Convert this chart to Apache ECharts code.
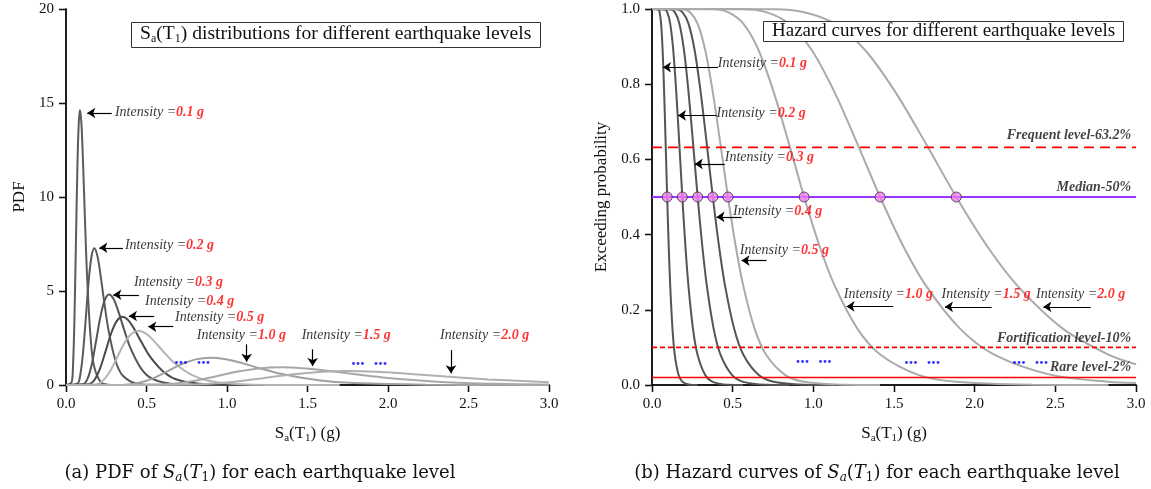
<!DOCTYPE html>
<html><head><meta charset="utf-8">
<script src="https://cdn.jsdelivr.net/npm/echarts@6/dist/echarts.min.js"></script>
<style>html,body{margin:0;padding:0;background:#fff}#c{width:1151px;height:489px}</style>
</head><body><div id="c"></div>
<script>
// ---------------- data ----------------
const intensityLabels = ['0.1 g','0.2 g','0.3 g','0.4 g','0.5 g','1.0 g','1.5 g','2.0 g'];
const xTickLabels = ['0.0','0.5','1.0','1.5','2.0','2.5','3.0'];
const pdfTickLabels = ['0','5','10','15','20'];
const probTickLabels = ['0.0','0.2','0.4','0.6','0.8','1.0'];

// panel (a): PDF curves [Sa, PDF]
const pdf01 = [[0,0],[0.0348,0.139],[0.0435,1.015],[0.0522,3.432],[0.0609,7.217],[0.0696,11.094],[0.0783,13.755],[0.087,14.63],[0.0957,13.91],[0.1044,12.163],[0.1175,8.87],[0.1305,5.87],[0.1523,2.568],[0.174,1.014],[0.2175,0.138],[0.261,0.018],[0.35,0]];
const pdf02 = [[0,0],[0.0704,0.069],[0.088,0.505],[0.1056,1.706],[0.1232,3.586],[0.1408,5.513],[0.1584,6.835],[0.176,7.27],[0.1936,6.912],[0.2112,6.044],[0.2376,4.408],[0.264,2.917],[0.308,1.276],[0.352,0.504],[0.44,0.068],[0.528,0.009],[0.7,0]];
const pdf03 = [[0,0],[0.1072,0.046],[0.134,0.335],[0.1608,1.131],[0.1876,2.378],[0.2144,3.655],[0.2412,4.532],[0.268,4.82],[0.2948,4.583],[0.3216,4.007],[0.3618,2.922],[0.402,1.934],[0.469,0.846],[0.536,0.334],[0.67,0.045],[0.804,0.006],[1.0,0]];
const pdf04 = [[0,0],[0.1404,0.034],[0.1755,0.252],[0.2106,0.852],[0.2457,1.791],[0.2808,2.753],[0.3159,3.413],[0.351,3.63],[0.3861,3.451],[0.4212,3.018],[0.4739,2.201],[0.5265,1.456],[0.6143,0.637],[0.702,0.252],[0.8775,0.034],[1.053,0.004],[1.3,0]];
const pdf05 = [[0,0],[0.18,0.027],[0.225,0.201],[0.27,0.678],[0.315,1.426],[0.36,2.191],[0.405,2.717],[0.45,2.89],[0.495,2.748],[0.54,2.403],[0.6075,1.752],[0.675,1.159],[0.7875,0.507],[0.9,0.2],[1.125,0.027],[1.35,0.003],[1.7,0]];
const pdf10 = [[0,0],[0.358,0.014],[0.4475,0.101],[0.537,0.34],[0.6265,0.715],[0.716,1.1],[0.8055,1.363],[0.895,1.45],[0.9845,1.379],[1.074,1.206],[1.2083,0.879],[1.3425,0.582],[1.5663,0.254],[1.79,0.1],[2.2375,0.014],[2.685,0.002],[3.0,0]];
const pdf15 = [[0,0],[0.5332,0.009],[0.6665,0.065],[0.7998,0.221],[0.9331,0.464],[1.0664,0.713],[1.1997,0.884],[1.333,0.94],[1.4663,0.894],[1.5996,0.782],[1.7996,0.57],[1.9995,0.377],[2.3328,0.165],[2.666,0.065],[3.0,0.024]];
const pdf20 = [[0,0],[0.6992,0.007],[0.874,0.051],[1.0488,0.174],[1.2236,0.365],[1.3984,0.561],[1.5732,0.696],[1.748,0.74],[1.9228,0.704],[2.0976,0.615],[2.3598,0.449],[2.622,0.297],[3.0,0.146]];

// panel (b): hazard curves [Sa, exceeding probability]
const haz01 = [[0,1],[0.0376,0.9992],[0.047,0.9916],[0.0564,0.961],[0.0658,0.891],[0.0752,0.779],[0.0846,0.642],[0.094,0.5],[0.1034,0.371],[0.1128,0.265],[0.1269,0.15],[0.141,0.081],[0.1645,0.027],[0.188,0.0084],[0.235,0.0008],[0.282,0.0001]];
const haz02 = [[0,1],[0.0752,0.9992],[0.094,0.9916],[0.1128,0.961],[0.1316,0.891],[0.1504,0.779],[0.1692,0.642],[0.188,0.5],[0.2068,0.371],[0.2256,0.265],[0.2538,0.15],[0.282,0.081],[0.329,0.027],[0.376,0.0084],[0.47,0.0008],[0.564,0.0001]];
const haz03 = [[0,1],[0.1132,0.9992],[0.1415,0.9916],[0.1698,0.961],[0.1981,0.891],[0.2264,0.779],[0.2547,0.642],[0.283,0.5],[0.3113,0.371],[0.3396,0.265],[0.382,0.15],[0.4245,0.081],[0.4953,0.027],[0.566,0.0084],[0.7075,0.0008],[0.849,0.0001]];
const haz04 = [[0,1],[0.1508,0.9992],[0.1885,0.9916],[0.2262,0.961],[0.2639,0.891],[0.3016,0.779],[0.3393,0.642],[0.377,0.5],[0.4147,0.371],[0.4524,0.265],[0.509,0.15],[0.5655,0.081],[0.6598,0.027],[0.754,0.0084],[0.9425,0.0008],[1.131,0.0001]];
const haz05 = [[0,1],[0.1884,0.9992],[0.2355,0.9916],[0.2826,0.961],[0.3297,0.891],[0.3768,0.779],[0.4239,0.642],[0.471,0.5],[0.5181,0.371],[0.5652,0.265],[0.6359,0.15],[0.7065,0.081],[0.8243,0.027],[0.942,0.0084],[1.1775,0.0008],[1.413,0.0001]];
const haz10 = [[0,1],[0.3772,0.9992],[0.4715,0.9916],[0.5658,0.961],[0.6601,0.891],[0.7544,0.779],[0.8487,0.642],[0.943,0.5],[1.0373,0.371],[1.1316,0.265],[1.273,0.15],[1.4145,0.081],[1.65,0.027],[1.886,0.0084],[2.3575,0.0008],[2.829,0.0001]];
const haz15 = [[0,1],[0.5656,0.9992],[0.707,0.9916],[0.8484,0.961],[0.9898,0.891],[1.1312,0.779],[1.2726,0.642],[1.414,0.5],[1.5554,0.371],[1.6968,0.265],[1.909,0.15],[2.121,0.081],[2.4745,0.027],[2.828,0.0084],[3.0,0.005]];
const haz20 = [[0,1],[0.7544,0.9992],[0.943,0.9916],[1.1316,0.961],[1.3202,0.891],[1.5088,0.779],[1.6974,0.642],[1.886,0.5],[2.0746,0.371],[2.2632,0.265],[2.546,0.15],[2.829,0.081],[3.0,0.055]];

const medianSa = [0.094,0.188,0.283,0.377,0.471,0.943,1.414,1.886];
const levelNames = ['Frequent level-63.2%','Median-50%','Fortification level-10%','Rare level-2%'];
const levelProbs = [0.632,0.5,0.1,0.02];

// ---------------- styles & annotation placement ----------------
const FONT = 'Liberation Serif';
const CAPFONT = 'DejaVu Serif';
const pdfSet = [pdf01,pdf02,pdf03,pdf04,pdf05,pdf10,pdf15,pdf20];
const hazSet = [haz01,haz02,haz03,haz04,haz05,haz10,haz15,haz20];
const pdfColors = ['#5c5c5c','#5a5a5a','#555555','#4a4a4a','#b4b4b4','#a0a0a0','#a8a8a8','#b0b0b0'];
const hazColors = ['#555555','#555555','#555555','#555555','#aaaaaa','#aaaaaa','#aaaaaa','#aaaaaa'];
const levelStyles = [
  {color:'#ff0000', width:1.6, type:[10,6]},
  {color:'#9933ff', width:2, type:'solid'},
  {color:'#ff0000', width:1.6, type:[5,3]},
  {color:'#ff0000', width:1.6, type:'solid'}
];
const pdfLabelPos = [[0.304,14.52],[0.366,7.41],[0.422,5.44],[0.491,4.43],[0.677,3.60],[0.812,2.62],[1.464,2.62],[2.323,2.62]];
const pdfArrows = [[[0.284,14.47],[0.132,14.47]],[[0.354,7.30],[0.207,7.30]],[[0.453,4.80],[0.294,4.80]],[[0.548,3.67],[0.391,3.67]],[[0.666,3.10],[0.511,3.10]],[[1.122,2.16],[1.122,1.24]],[[1.532,1.90],[1.532,1.01]],[[2.391,1.86],[2.391,0.62]]];
const pdfDots = [[0.672,1.37],[1.771,1.33]];
const hazLabelPos = [[0.408,0.856],[0.400,0.723],[0.451,0.605],[0.502,0.463],[0.544,0.358],[1.189,0.240],[1.795,0.240],[2.380,0.240]];
const hazArrows = [[[0.409,0.845],[0.068,0.845]],[[0.400,0.717],[0.161,0.717]],[[0.451,0.588],[0.265,0.588]],[[0.555,0.447],[0.400,0.447]],[[0.710,0.331],[0.555,0.331]],[[1.495,0.209],[1.206,0.209]],[[2.105,0.208],[1.816,0.208]],[[2.720,0.208],[2.426,0.208]]];
const hazDots = [[0.891,0.070],[1.563,0.068],[2.233,0.068]];
const levelLabelPos = [[2.97,0.663],[2.97,0.526],[2.97,0.124],[2.97,0.047]];

const annRich = {
  t: {fontFamily: FONT, fontStyle: 'italic', fontWeight: 'normal', fontSize: 14, color: '#000'},
  v: {fontFamily: FONT, fontStyle: 'italic', fontWeight: 'bold', fontSize: 14, color: '#ff0000'}
};
const nameRich = {
  n: {fontFamily: FONT, fontSize: 17, color: '#111'},
  s: {fontFamily: FONT, fontSize: 11, color: '#111', padding: [9,0,0,0]}
};
const axisLbl = {fontFamily: FONT, fontSize: 15, color: '#111'};
const axLine = {show: true, lineStyle: {color: '#111', width: 1.5}};

function xAxisPair(grid) {
  return [
    {type:'value', gridIndex:grid, min:0, max:3, interval:0.5, axisLine:axLine,
     axisTick:{show:true, inside:false, length:7, lineStyle:{color:'#111', width:1.3}},
     axisLabel:Object.assign({margin:12, formatter:(v)=>xTickLabels[Math.round(v/0.5)]}, axisLbl),
     splitLine:{show:false},
     name:'{n|S}{s|a}{n|(T}{s|1}{n|) (g)}', nameLocation:'middle', nameGap:39,
     nameTextStyle:{rich:nameRich}},
    {type:'value', gridIndex:grid, position:'top', min:0, max:3, interval:0.5, axisLine:axLine,
     axisTick:{show:true, inside:true, length:7, lineStyle:{color:'#111', width:1.3}},
     axisLabel:{show:false}, splitLine:{show:false}}
  ];
}

const series = [];
pdfSet.forEach((d, i) => series.push({
  type:'line', xAxisIndex:0, yAxisIndex:0, data:d, showSymbol:false, smooth:0.35,
  lineStyle:{color:pdfColors[i], width:2}, z:2
}));
hazSet.forEach((d, i) => series.push({
  type:'line', xAxisIndex:2, yAxisIndex:2, data:d, showSymbol:false, smooth:0.3,
  lineStyle:{color:hazColors[i], width:2}, z:2
}));
levelProbs.forEach((p, i) => series.push({
  type:'line', xAxisIndex:2, yAxisIndex:2, data:[[0,p],[3,p]], showSymbol:false,
  lineStyle:levelStyles[i], z:3
}));
series.push({
  type:'scatter', xAxisIndex:2, yAxisIndex:2, data:medianSa.map(m=>[m, levelProbs[1]]),
  symbol:'circle', symbolSize:10, itemStyle:{color:'#f080f0', borderColor:'#333', borderWidth:1}, z:5
});
function arrowLines(arr) {
  return {silent:true, symbol:['none','arrow'], symbolSize:8, label:{show:false},
    lineStyle:{color:'#000', width:1.2, type:'solid'}, emphasis:{disabled:true},
    data: arr.map(a => [{coord:a[0]}, {coord:a[1]}])};
}
series.push({
  type:'scatter', xAxisIndex:0, yAxisIndex:0, data:pdfLabelPos, symbolSize:0, silent:true, z:6,
  label:{show:true, position:'right', distance:0, rich:annRich,
    formatter:(p)=>'{t|Intensity =}{v|'+intensityLabels[p.dataIndex]+'}'},
  markLine: arrowLines(pdfArrows)
});
series.push({
  type:'scatter', xAxisIndex:2, yAxisIndex:2, data:hazLabelPos, symbolSize:0, silent:true, z:6,
  label:{show:true, position:'right', distance:0, rich:annRich,
    formatter:(p)=>'{t|Intensity =}{v|'+intensityLabels[p.dataIndex]+'}'},
  markLine: arrowLines(hazArrows)
});
const dotLabel = {show:true, position:'right', distance:0, formatter:'...  ...',
  fontFamily: FONT, fontWeight:'bold', fontSize:18, color:'#0000ff'};
series.push({type:'scatter', xAxisIndex:0, yAxisIndex:0, data:pdfDots, symbolSize:0, silent:true, label:dotLabel});
series.push({type:'scatter', xAxisIndex:2, yAxisIndex:2, data:hazDots, symbolSize:0, silent:true, label:dotLabel});
series.push({
  type:'scatter', xAxisIndex:2, yAxisIndex:2, data:levelLabelPos, symbolSize:0, silent:true, z:6,
  label:{show:true, position:'left', distance:0, fontFamily:FONT, fontStyle:'italic', fontWeight:'bold',
    fontSize:14, color:'#111', formatter:(p)=>levelNames[p.dataIndex]}
});

const titleRichA = {
  n: {fontFamily: FONT, fontSize: 19.6, fontWeight:'normal', color: '#111'},
  s: {fontFamily: FONT, fontSize: 12, fontWeight:'normal', color: '#111', padding: [10,0,0,0]}
};
const titleRichB = {
  n: {fontFamily: FONT, fontSize: 19, fontWeight:'normal', color: '#111'}
};
const capRich = {
  n: {fontFamily: CAPFONT, fontSize: 18, fontWeight:'normal', color: '#111'},
  i: {fontFamily: CAPFONT, fontSize: 18, fontWeight:'normal', fontStyle:'italic', color: '#111'},
  s: {fontFamily: CAPFONT, fontSize: 12, fontWeight:'normal', fontStyle:'italic', color: '#111', padding: [9,0,0,0]},
  u: {fontFamily: CAPFONT, fontSize: 12, fontWeight:'normal', color: '#111', padding: [9,0,0,0]}
};

const option = {
  animation: false,
  backgroundColor: '#fff',
  grid: [
    {left:66, right:602, top:9, bottom:104},
    {left:652, right:15, top:9, bottom:104}
  ],
  xAxis: xAxisPair(0).concat(xAxisPair(1)),
  yAxis: [
    {type:'value', gridIndex:0, min:0, max:20, interval:5, axisLine:axLine,
     axisTick:{show:true, length:7, lineStyle:{color:'#111', width:1.3}},
     axisLabel:Object.assign({margin:12, formatter:(v)=>pdfTickLabels[Math.round(v/5)]}, axisLbl),
     splitLine:{show:false}, name:'PDF', nameLocation:'middle', nameGap:38,
     nameTextStyle:{fontFamily:FONT, fontSize:17, color:'#111'}},
    {type:'value', gridIndex:0, position:'right', min:0, max:20, interval:5, axisLine:axLine,
     axisTick:{show:true, inside:true, length:7, lineStyle:{color:'#111', width:1.3}},
     axisLabel:{show:false}, splitLine:{show:false}},
    {type:'value', gridIndex:1, min:0, max:1, interval:0.2, axisLine:axLine,
     axisTick:{show:true, length:7, lineStyle:{color:'#111', width:1.3}},
     axisLabel:Object.assign({margin:12, formatter:(v)=>probTickLabels[Math.round(v/0.2)]}, axisLbl),
     splitLine:{show:false}, name:'Exceeding probability', nameLocation:'middle', nameGap:42,
     nameTextStyle:{fontFamily:FONT, fontSize:17, color:'#111'}},
    {type:'value', gridIndex:1, position:'right', min:0, max:1, interval:0.2, axisLine:axLine,
     axisTick:{show:true, inside:true, length:7, lineStyle:{color:'#111', width:1.3}},
     axisLabel:{show:false}, splitLine:{show:false}}
  ],
  title: [
    {left:131, top:21, padding:[2,9,3,9], borderColor:'#333', borderWidth:1, backgroundColor:'#fff',
     text:'{n|S}{s|a}{n|(T}{s|1}{n|) distributions for different earthquake levels}',
     textStyle:{fontWeight:'normal', rich:titleRichA}},
    {left:763, top:21, padding:[1,9,1,9], borderColor:'#333', borderWidth:1, backgroundColor:'#fff',
     text:'{n|Hazard curves for different earthquake levels}',
     textStyle:{fontWeight:'normal', rich:titleRichB}},
    {left:255, top:458, textAlign:'center',
     text:'{n|(a) PDF of }{i|S}{s|a}{n|(}{i|T}{u|1}{n|) for each earthquake level}',
     textStyle:{fontWeight:'normal', rich:capRich}},
    {left:872, top:458, textAlign:'center',
     text:'{n|(b) Hazard curves of }{i|S}{s|a}{n|(}{i|T}{u|1}{n|) for each earthquake level}',
     textStyle:{fontWeight:'normal', rich:capRich}}
  ],
  series: series
};
const chart = echarts.init(document.getElementById('c'), null, {renderer:'canvas'});
chart.setOption(option);
</script>
</body></html>
